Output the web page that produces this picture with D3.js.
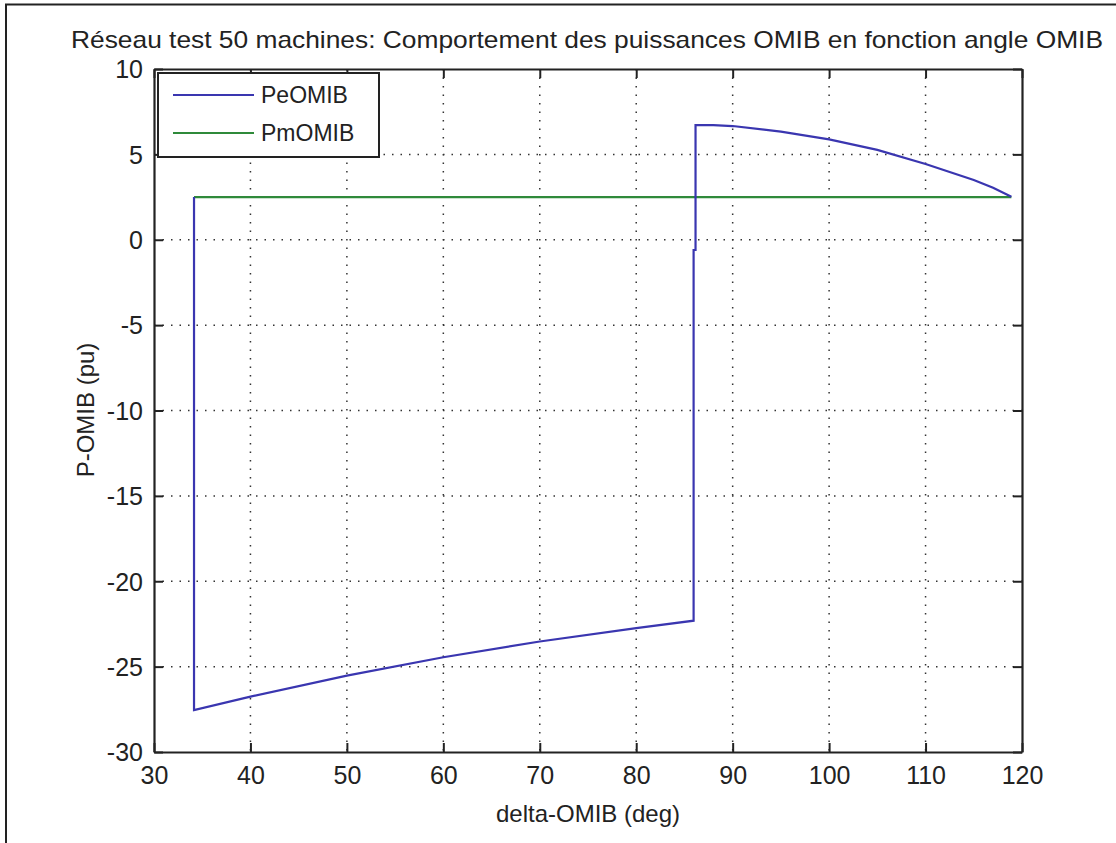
<!DOCTYPE html>
<html><head><meta charset="utf-8">
<script src="https://cdn.jsdelivr.net/npm/d3@7"></script>
<style>
body{margin:0;background:#fff;}
svg{display:block;}
text{font-family:"Liberation Sans",Arial,sans-serif;fill:#222;}
</style></head>
<body>
<script>
// ---- data ----
const xTicks = [30,40,50,60,70,80,90,100,110,120];
const yTicks = [-30,-25,-20,-15,-10,-5,0,5,10];
const peX = [34.15,34.15,40,50,60,70,80,85.95,85.95,86.15,86.15,88,90,95,100,105,110,115,117,118.9];
const peY = [2.5,-27.55,-26.76,-25.53,-24.45,-23.53,-22.74,-22.31,-0.6,-0.6,6.72,6.71,6.66,6.33,5.88,5.26,4.44,3.5,3.05,2.52];
const pmX = [34.15,118.9];
const pmY = [2.5,2.5];
const seriesNames = ["PeOMIB","PmOMIB"];
const titleText = "Réseau test 50 machines: Comportement des puissances OMIB en fonction angle OMIB";
const xLabel = "delta-OMIB (deg)";
const yLabel = "P-OMIB (pu)";

const W=1116,H=843;
const L=154,R=1022,T=69,B=752;
const svg=d3.select("body").append("svg").attr("width",W).attr("height",H);

// outer frame (left/top)
svg.append("path").attr("d",`M6,843 V4.5 H1116`).attr("fill","none").attr("stroke","#222").attr("stroke-width",2);

const x=d3.scaleLinear().domain([30,120]).range([L,R]);
const y=d3.scaleLinear().domain([-30,10]).range([B,T]);
const fmt=d=>String(d);

// grid
const g=svg.append("g");
g.selectAll(".gx").data(xTicks.slice(1,-1)).join("line")
 .attr("x1",d=>x(d)).attr("x2",d=>x(d)).attr("y1",T).attr("y2",B)
 .attr("stroke","#333").attr("stroke-width",1.5).attr("stroke-dasharray","1.5,7");
g.selectAll(".gy").data(yTicks.slice(1,-1)).join("line")
 .attr("y1",d=>y(d)).attr("y2",d=>y(d)).attr("x1",L).attr("x2",R)
 .attr("stroke","#333").attr("stroke-width",1.5).attr("stroke-dasharray","1.5,7");

// axes with inward ticks
const tl=9;
const axB=svg.append("g").attr("transform",`translate(0,${B})`)
 .call(d3.axisBottom(x).tickValues(xTicks).tickFormat(fmt).tickSize(-tl).tickPadding(tl+6).tickSizeOuter(0));
const axT=svg.append("g").attr("transform",`translate(0,${T})`)
 .call(d3.axisTop(x).tickValues(xTicks).tickSize(-tl).tickFormat("").tickSizeOuter(0));
const axLft=svg.append("g").attr("transform",`translate(${L},0)`)
 .call(d3.axisLeft(y).tickValues(yTicks).tickFormat(fmt).tickSize(-tl).tickPadding(tl+4).tickSizeOuter(0));
const axRt=svg.append("g").attr("transform",`translate(${R},0)`)
 .call(d3.axisRight(y).tickValues(yTicks).tickSize(-tl).tickFormat("").tickSizeOuter(0));
[axB,axT,axLft,axRt].forEach(a=>{
  a.selectAll("path").attr("stroke","#222").attr("stroke-width",2.2);
  a.selectAll("line").attr("stroke","#222").attr("stroke-width",2);
  a.selectAll("text").style("font-size","25px").attr("fill","#222")
   .style("font-family","'Liberation Sans',Arial,sans-serif");
});
axB.selectAll("text").attr("dy","0.71em").attr("y",14);
axLft.selectAll("text").attr("x",-11).attr("dy","0.35em");

// lines
const line=d3.line().x(d=>x(d[0])).y(d=>y(d[1]));
svg.append("path").datum(pmX.map((v,i)=>[v,pmY[i]])).attr("d",line)
 .attr("fill","none").attr("stroke","#2f8a3a").attr("stroke-width",2.2);
svg.append("path").datum(peX.map((v,i)=>[v,peY[i]])).attr("d",line)
 .attr("fill","none").attr("stroke","#3a36b0").attr("stroke-width",2.2);

// legend
const lg=svg.append("g");
lg.append("rect").attr("x",158).attr("y",73).attr("width",221).attr("height",84)
 .attr("fill","#fff").attr("stroke","#222").attr("stroke-width",2);
const cols=["#3a36b0","#2f8a3a"];
seriesNames.forEach((n,i)=>{
  const yy=95+i*38;
  lg.append("line").attr("x1",173).attr("x2",254).attr("y1",yy).attr("y2",yy)
    .attr("stroke",cols[i]).attr("stroke-width",2.2);
  lg.append("text").attr("x",261).attr("y",yy).attr("dy","0.36em")
    .style("font-size","23px").text(n);
});

// title and labels
svg.append("text").attr("x",587).attr("y",48).attr("text-anchor","middle")
 .style("font-size","24px").attr("textLength",1032).attr("lengthAdjust","spacingAndGlyphs").text(titleText);
svg.append("text").attr("x",588).attr("y",822).attr("text-anchor","middle")
 .style("font-size","24px").text(xLabel);
svg.append("text").attr("transform",`translate(94,410) rotate(-90)`).attr("text-anchor","middle")
 .style("font-size","24px").text(yLabel);
</script>
</body></html>
